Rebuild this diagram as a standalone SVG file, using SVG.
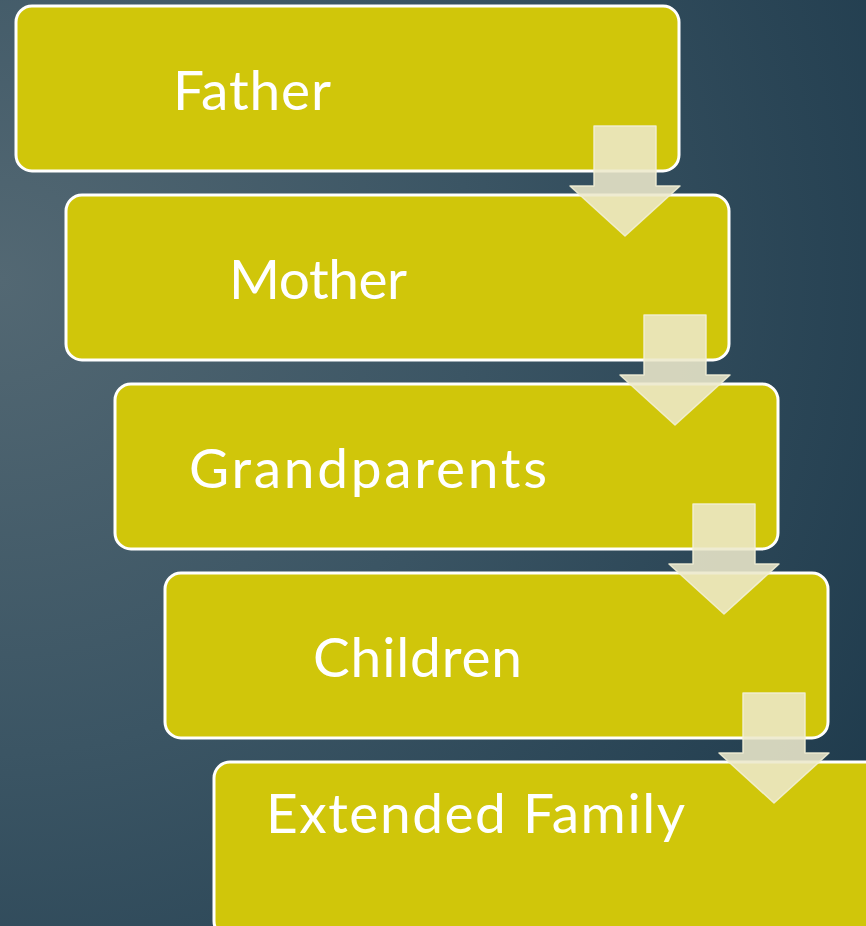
<svg xmlns="http://www.w3.org/2000/svg" width="866" height="926" viewBox="0 0 866 926">
  <defs>
    <radialGradient id="bg" gradientUnits="userSpaceOnUse" cx="0" cy="280" r="1050">
      <stop offset="0" stop-color="#536873"/>
      <stop offset="0.45" stop-color="#3b5564"/>
      <stop offset="1" stop-color="#1d394b"/>
    </radialGradient>
    <style>
      .box { fill: #d0c60a; stroke: #ffffff; stroke-width: 3; }
      .lbl { font-family: Lato, "Open Sans", "Liberation Sans", sans-serif; font-size: 55px; fill: #ffffff; }
      .arrow { fill: #ece8cb; fill-opacity: 0.88; stroke: #f2efd6; stroke-opacity: 0.9; stroke-width: 1.5; stroke-linejoin: round; }
    </style>
    <path id="arr" d="M0,0 H62 V60 H86 L31,110 L-24,60 H0 Z"/>
  </defs>
  <rect width="866" height="926" fill="url(#bg)"/>

  <g id="node-father">
    <rect class="box" x="16" y="6" width="663" height="165" rx="16"/>
    <text class="lbl" x="173" y="110" textLength="158">Father</text>
  </g>
  <g id="node-mother">
    <rect class="box" x="66" y="195" width="663" height="165" rx="16"/>
    <text class="lbl" x="229" y="299" textLength="178">Mother</text>
  </g>
  <g id="node-grandparents">
    <rect class="box" x="115" y="384" width="663" height="165" rx="16"/>
    <text class="lbl" x="189" y="488" textLength="358">Grandparents</text>
  </g>
  <g id="node-children">
    <rect class="box" x="165" y="573" width="663" height="165" rx="16"/>
    <text class="lbl" x="313" y="677" textLength="209">Children</text>
  </g>
  <g id="node-extended">
    <rect class="box" x="214" y="762" width="680" height="175" rx="16"/>
    <text class="lbl" x="266" y="833" textLength="419">Extended Family</text>
  </g>

  <g id="connectors">
    <use href="#arr" class="arrow" x="594" y="126"/>
    <use href="#arr" class="arrow" x="644" y="315"/>
    <use href="#arr" class="arrow" x="693" y="504"/>
    <use href="#arr" class="arrow" x="743" y="693"/>
  </g>
</svg>
